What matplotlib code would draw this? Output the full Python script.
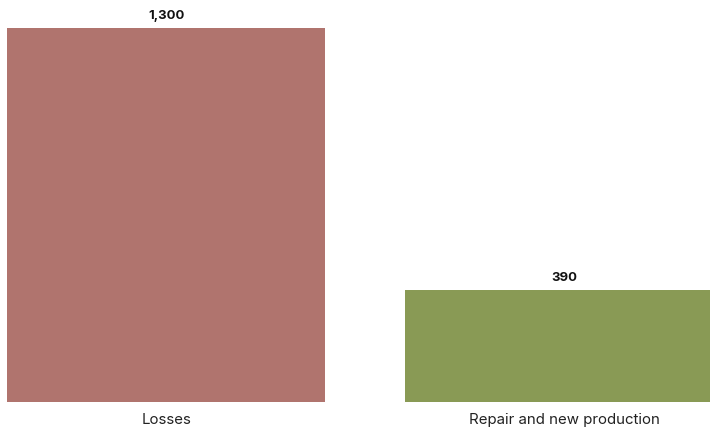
import matplotlib
matplotlib.use("Agg")
import matplotlib.pyplot as plt

categories = ["Losses", "Repair and new production"]
values = [1300, 390]
colors = ["#b0746e", "#899a55"]

plt.rcParams["font.family"] = ["Inter", "DejaVu Sans"]

fig = plt.figure(figsize=(7.10, 4.31), dpi=100)
ax = fig.add_axes([0, 28 / 431, 1, 403 / 431])

x = list(range(len(categories)))
ax.bar(x, values, width=0.8, color=colors, linewidth=0)

for xi, v in zip(x, values):
    ax.annotate(f"{v:,}", (xi, v), xytext=(0, 5), textcoords="offset points",
                ha="center", va="bottom", fontsize=9.5, fontweight="bold",
                color="#111111")

ax.set_xlim(-0.4176, 1.3668)
ax.set_ylim(0, 1401)
ax.set_xticks(x)
ax.set_xticklabels(categories, fontsize=10.8, color="#222222")
ax.tick_params(axis="x", length=0, pad=7.5)
ax.set_yticks([])
for s in ax.spines.values():
    s.set_visible(False)

fig.savefig("out.png", dpi=100)
